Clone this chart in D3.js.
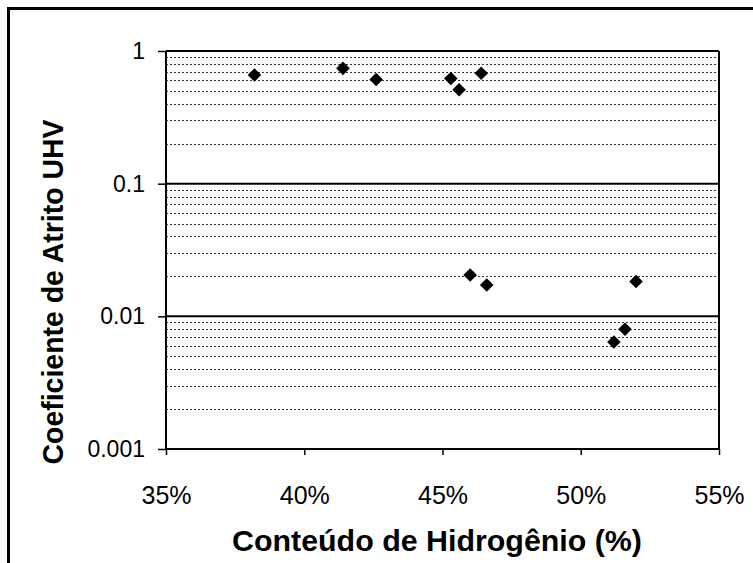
<!DOCTYPE html>
<html>
<head>
<meta charset="utf-8">
<script src="https://cdn.jsdelivr.net/npm/d3@7"></script>
<style>
  html, body { margin: 0; padding: 0; background: #fff; }
  svg { display: block; }
  text { font-family: "Liberation Sans", Arial, sans-serif; fill: #000; }
</style>
</head>
<body>
<svg id="chart" width="753" height="563"></svg>
<script>
// Hydrogen content (%) and UHV friction coefficient of each sample
const hydrogen = [38.2, 41.4, 42.6, 45.3, 45.6, 46.4, 46.0, 46.6, 52.0, 51.6, 51.2];
const friction = [0.66, 0.74, 0.61, 0.62, 0.51, 0.68, 0.0205, 0.0172, 0.0183, 0.0080, 0.0064];

const xTicks = [35, 40, 45, 50, 55];
const yTicks = [1, 0.1, 0.01, 0.001];
const yTickLabels = ["1", "0.1", "0.01", "0.001"];

const xTitle = "Conteúdo de Hidrogênio (%)";
const yTitle = "Coeficiente de Atrito UHV";

const svg = d3.select("#chart");
const plot = { left: 166, right: 719, top: 51, bottom: 449 };

const x = d3.scaleLinear().domain([35, 55]).range([plot.left, plot.right]);
const y = d3.scaleLog().domain([0.001, 1]).range([plot.bottom, plot.top]);

// frame lines along the top and left edges of the page
svg.append("path")
  .attr("d", "M8.5,563 V8.5 H753")
  .attr("fill", "none").attr("stroke", "#000").attr("stroke-width", 3);

// minor gridlines (2..9 within each decade)
const minor = [];
[0.001, 0.01, 0.1].forEach(d => { for (let k = 2; k <= 9; k++) minor.push(d * k); });
svg.append("g").attr("shape-rendering", "crispEdges")
  .selectAll("line").data(minor).join("line")
  .attr("x1", plot.left).attr("x2", plot.right)
  .attr("y1", d => Math.round(y(d)) + 0.5).attr("y2", d => Math.round(y(d)) + 0.5)
  .attr("stroke", "#333").attr("stroke-width", 1).attr("stroke-dasharray", "2,2");

// major gridlines at each decade
svg.append("g").selectAll("line").data(yTicks).join("line")
  .attr("x1", plot.left).attr("x2", plot.right)
  .attr("y1", d => y(d)).attr("y2", d => y(d))
  .attr("stroke", "#000").attr("stroke-width", 2);

// right border of the plot area
svg.append("line")
  .attr("x1", plot.right).attr("x2", plot.right)
  .attr("y1", plot.top).attr("y2", plot.bottom)
  .attr("stroke", "#000").attr("stroke-width", 2);

// x axis
const xAxis = d3.axisBottom(x).tickValues(xTicks).tickSize(6).tickPadding(31)
  .tickFormat(d => d + "%");
const gx = svg.append("g").attr("transform", `translate(0,${plot.bottom})`).call(xAxis);
gx.select(".domain").attr("stroke-width", 2).attr("d", `M${plot.left},0H${plot.right}`);
gx.selectAll(".tick line").attr("stroke-width", 1.5);
gx.selectAll("text").attr("font-size", 25).attr("font-family", "Liberation Sans, Arial, sans-serif")
  .attr("fill", "#000");

// y axis
const yAxis = d3.axisLeft(y).tickValues(yTicks).tickSize(8).tickPadding(13)
  .tickFormat((d, i) => yTickLabels[i]);
const gy = svg.append("g").attr("transform", `translate(${plot.left},0)`).call(yAxis);
gy.select(".domain").attr("stroke-width", 2).attr("d", `M0,${plot.top}V${plot.bottom}`);
gy.selectAll(".tick line").attr("stroke-width", 1.5);
gy.selectAll("text").attr("font-size", 23).attr("font-family", "Liberation Sans, Arial, sans-serif")
  .attr("fill", "#000");

// data markers (diamonds)
const diamond = d3.symbol().type(d3.symbolSquare).size(92);
svg.append("g").selectAll("path").data(hydrogen).join("path")
  .attr("d", diamond)
  .attr("transform", (d, i) => `translate(${x(d)},${y(friction[i])}) rotate(45)`)
  .attr("fill", "#000");

// axis titles
svg.append("text")
  .attr("x", 437).attr("y", 551)
  .attr("text-anchor", "middle")
  .attr("font-size", 30).attr("font-weight", "bold")
  .attr("textLength", 410).attr("lengthAdjust", "spacingAndGlyphs")
  .text(xTitle);

svg.append("text")
  .attr("transform", "translate(63,292) rotate(-90)")
  .attr("text-anchor", "middle")
  .attr("font-size", 30).attr("font-weight", "bold")
  .attr("textLength", 345).attr("lengthAdjust", "spacingAndGlyphs")
  .text(yTitle);
</script>
</body>
</html>
